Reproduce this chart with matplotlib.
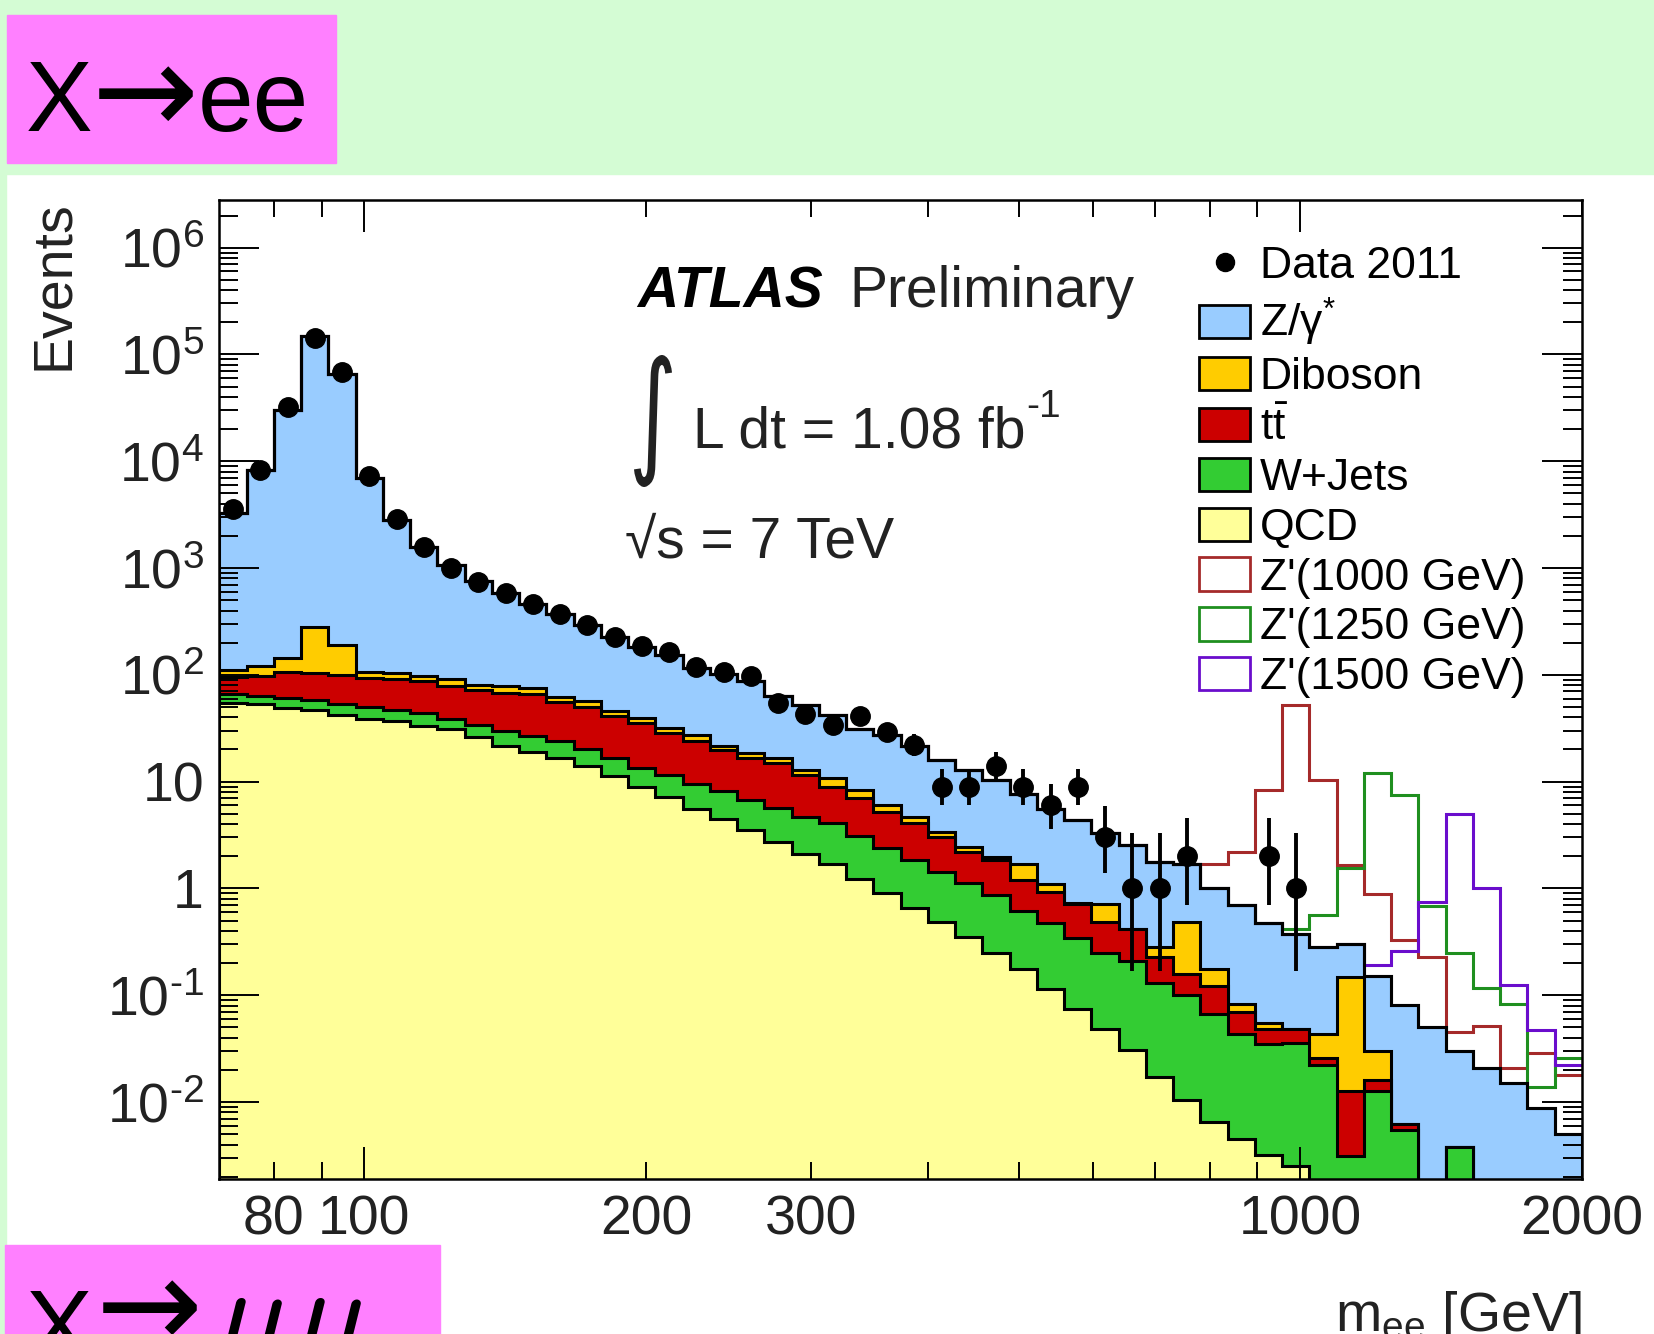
import numpy as np
import matplotlib
matplotlib.use('Agg')
import matplotlib.pyplot as plt
from matplotlib.patches import Rectangle, Patch, PathPatch
from matplotlib.lines import Line2D
from matplotlib.textpath import TextPath
from matplotlib.transforms import Affine2D
from matplotlib.font_manager import FontProperties
from matplotlib.ticker import FixedLocator, FuncFormatter, LogLocator

plt.rcParams['font.family'] = ['Liberation Sans', 'DejaVu Sans']
plt.rcParams['mathtext.fontset'] = 'custom'
plt.rcParams['mathtext.rm'] = 'Liberation Sans'
plt.rcParams['mathtext.it'] = 'Liberation Sans:italic'
plt.rcParams['mathtext.bf'] = 'Liberation Sans:bold'

# m_ee binning: 50 bins of equal log width between 70 and 2000 GeV
edges = np.geomspace(70, 2000, 51)

data = [3550, 8300, 32000, 144000, 68000, 7200, 2850, 1560, 1000, 740,
        585, 465, 370, 295, 228, 187, 164, 119, 106, 98,
        55, 43, 34, 41, 29, 22, 9, 9, 14, 9,
        6, 9, 3, 1, 1, 2, 0, 0, 2, 1,
        0, 0, 0, 0, 0, 0, 0, 0, 0, 0]
data_err_lo = [60, 91, 179, 380, 261, 85, 53, 39, 32, 27,
               24, 22, 19, 17, 15, 14, 13, 11, 10, 10,
               7.5, 6.5, 5.8, 6.4, 5.4, 4.7, 2.9, 2.9, 3.7, 2.9,
               2.4, 2.9, 1.6, 0.83, 0.83, 1.3, 0, 0, 1.3, 0.83,
               0, 0, 0, 0, 0, 0, 0, 0, 0, 0]
data_err_hi = [60, 91, 179, 380, 261, 85, 53, 39, 32, 27,
               24, 22, 19, 17, 15, 14, 13, 11, 10, 10,
               8.5, 7.6, 6.9, 7.4, 6.4, 5.8, 4.1, 4.1, 4.8, 4.1,
               3.6, 4.1, 2.9, 2.3, 2.3, 2.6, 0, 0, 2.6, 2.3,
               0, 0, 0, 0, 0, 0, 0, 0, 0, 0]

qcd = [55, 53, 49, 47, 42, 39, 37, 33, 31, 26,
       21.5, 19, 16.6, 14, 11.4, 9.0, 7.2, 5.6, 4.5, 3.5,
       2.7, 2.1, 1.7, 1.23, 0.9, 0.65, 0.48, 0.35, 0.25, 0.175,
       0.115, 0.074, 0.048, 0.031, 0.017, 0.0105, 0.0065, 0.0045, 0.0032, 0.0025,
       0, 0, 0, 0, 0, 0, 0, 0, 0, 0]
wjets = [11, 11, 12, 11, 11, 11, 10, 11, 8, 8,
         8.5, 8, 7.4, 6, 5.1, 4.5, 4.3, 3.9, 3.6, 3.3,
         3.0, 2.6, 2.4, 1.87, 1.5, 1.2, 0.96, 0.77, 0.61, 0.445,
         0.355, 0.266, 0.202, 0.179, 0.113, 0.09, 0.06, 0.039, 0.032, 0.033,
         0.022, 0.0031, 0.0126, 0.0055, 0, 0.0038, 0, 0, 0, 0]
ttbar = [29, 33, 45, 46, 47, 44, 44, 44, 40, 38,
         38, 39, 32, 30, 24.5, 22, 17.1, 14.3, 11.5, 9.8,
         9.2, 6.9, 4.9, 3.9, 2.8, 2.21, 1.6, 1.08, 0.97, 0.57,
         0.45, 0.38, 0.23, 0.21, 0.096, 0.057, 0.056, 0.026, 0.013, 0.013,
         0.004, 0.0095, 0.0034, 0.0007, 0, 0, 0, 0, 0, 0]
diboson = [16, 24, 39, 179, 89, 12, 13, 10, 12, 9,
           10, 10, 6, 7, 5, 4, 3.2, 3.8, 1.8, 1.9,
           1.7, 1.3, 1.8, 1.4, 0.8, 0.64, 0.35, 0.25, 0.14, 0.52,
           0.17, 0.01, 0.24, 0, 0.054, 0.323, 0.054, 0.013, 0.007, 0,
           0.017, 0.134, 0.014, 0, 0, 0, 0, 0, 0, 0]
zgamma = [3140, 8180, 29900, 148000, 65800, 6790, 2700, 1480, 969, 679,
          512, 384, 308, 233, 179, 143, 120, 89.4, 79.6, 68.5,
          46.4, 39.1, 31.7, 22.6, 21.5, 16.7, 12.6, 10.5, 8.43, 6.0,
          4.51, 3.67, 2.55, 2.12, 1.49, 1.22, 0.824, 0.618, 0.415, 0.322,
          0.237, 0.153, 0.12, 0.074, 0.05, 0.026, 0.021, 0.015, 0.0088, 0.005]

# Z' signal yields, stacked on the total background when drawn
zp1000 = [0] * 36 + [0.7, 1.5, 7.8, 51.6, 10.1, 1.35, 0.73, 0.25, 0.18, 0.015,
                     0.03, 0.006, 0.02, 0.013]
zp1250 = [0] * 39 + [0.05, 0.28, 1.26, 11.85, 7.4, 0.64, 0.22, 0.096, 0.067, 0.005,
                     0.021]
zp1500 = [0] * 42 + [0.04, 0.18, 0.69, 4.97, 0.98, 0.11, 0.038, 0.017]

bkg = [('QCD', qcd, '#ffff99'), ('W+Jets', wjets, '#33cc33'),
       (r'$\mathregular{t\bar{t}}$', ttbar, '#cc0000'),
       ('Diboson', diboson, '#ffcc00'), (r'Z/$\mathregular{\gamma^{*}}$', zgamma, '#99ccff')]
signals = [("Z'(1000 GeV)", zp1000, '#a52a2a'), ("Z'(1250 GeV)", zp1250, '#1f8f1f'),
           ("Z'(1500 GeV)", zp1500, '#6a0dcc')]

W, H = 1654, 1334
fig = plt.figure(figsize=(W / 100, H / 100), dpi=100)


def fpos(x, y):
    # pixel position (from top left) -> figure fraction
    return x / W, 1 - y / H


# page decoration around the plot
green = '#d4fcd4'
pink = '#ff80ff'
fig.patches.append(Rectangle((0, 1 - 174 / H), 1, 174 / H, transform=fig.transFigure, color=green, zorder=0))
fig.patches.append(Rectangle((0, 0), 6 / W, 1 - 174 / H, transform=fig.transFigure, color=green, zorder=0))
fig.patches.append(Rectangle((7 / W, 1 - 163 / H), 329 / W, 148 / H, transform=fig.transFigure, color=pink, zorder=0))
fig.patches.append(Rectangle((5 / W, 0), 435 / W, 89 / H, transform=fig.transFigure, color=pink, zorder=0))
arrow_font = ['DejaVu Sans']
fig.text(*fpos(26, 131), 'X', fontsize=72, va='baseline')
fig.text(*fpos(92, 134), '\u2192', fontsize=92, va='baseline', family=arrow_font)
fig.text(*fpos(198, 131), 'ee', fontsize=72, va='baseline')
fig.text(*fpos(26, 1360), 'X', fontsize=72, va='baseline')
fig.text(*fpos(96, 1348), '\u2192', fontsize=92, va='baseline', family=arrow_font)
fig.text(*fpos(212, 1357), r'$\mu\mu$', fontsize=95, va='baseline', math_fontfamily='cm')

ax = fig.add_axes([219.4 / W, 1 - 1179.3 / H, (1582 - 219.4) / W, (1179.3 - 200.4) / H])
ax.set_xscale('log')
ax.set_yscale('log')

cum = np.cumsum([np.array(v, dtype=float) for _, v, _ in bkg], axis=0)
for level, (_, _, col) in reversed(list(zip(cum, bkg))):
    ax.stairs(np.maximum(level, 1e-6), edges, baseline=1e-6, fill=True,
              facecolor=col, edgecolor='black', lw=2.2)
total = cum[-1]
for _, sig, col in signals:
    ax.stairs(total + np.array(sig), edges, baseline=None, color=col, lw=2.2)
ax.stairs(total, edges, baseline=None, color='black', lw=2.2)

centers = np.sqrt(edges[:-1] * edges[1:])
d = np.array(data, dtype=float)
has = d > 0
ax.errorbar(centers[has], d[has],
            yerr=[np.array(data_err_lo)[has], np.array(data_err_hi)[has]],
            fmt='o', color='black', ms=14, elinewidth=2.8, capsize=0, zorder=10)

ax.set_xlim(70, 2000)
ax.set_ylim(1.89e-3, 2.77e6)

ax.xaxis.set_major_locator(FixedLocator([100, 1000]))
ax.xaxis.set_minor_locator(FixedLocator([80, 90, 200, 300, 400, 500, 600, 700, 800, 900, 2000]))
ax.xaxis.set_major_formatter(FuncFormatter(lambda v, p: '%g' % v))
ax.xaxis.set_minor_formatter(FuncFormatter(lambda v, p: '%g' % v if v in (80, 200, 300, 2000) else ''))


def ylab(v, p):
    k = int(round(np.log10(v)))
    if k == 0:
        return '1'
    if k == 1:
        return '10'
    # short hyphen for negative exponents, as on the original axis
    return r'$\mathregular{10^{%s}}$' % str(k).replace('-', '\u2010')


ax.yaxis.set_major_locator(LogLocator(base=10, numticks=20))
ax.yaxis.set_minor_locator(LogLocator(base=10, subs=np.arange(2, 10), numticks=20))
ax.yaxis.set_major_formatter(FuncFormatter(ylab))

ax.tick_params(which='both', direction='in', top=True, right=True, width=1.4,
               labelsize=40, labelcolor='#222222', pad=11)
ax.tick_params(axis='y', which='major', length=29)
ax.tick_params(axis='y', which='minor', length=14)
ax.tick_params(axis='x', which='major', length=23)
ax.tick_params(axis='x', which='minor', length=12)
for s in ax.spines.values():
    s.set_linewidth(1.8)

ax.set_ylabel('Events', fontsize=40, loc='top', color='#222222')
ax.yaxis.set_label_coords(-0.1025, 1.0)
fig.text(*fpos(1582, 1331), r'm$_{\mathregular{ee}}$ [GeV]', fontsize=40, ha='right',
         va='baseline', color='#222222')

# legend
handles = [Line2D([], [], ls='none', marker='o', color='black', ms=13)]
labels = ['Data 2011']
for name, _, col in reversed(bkg):
    handles.append(Patch(facecolor=col, edgecolor='black', lw=2))
    labels.append(name)
for name, _, col in signals:
    handles.append(Patch(facecolor='white', edgecolor=col, lw=2))
    labels.append(name)
ax.legend(handles, labels, loc='upper left', bbox_to_anchor=(0.7189, 0.953),
          frameon=False, fontsize=32, handlelength=1.15, handleheight=0.77,
          handletextpad=0.22, labelspacing=0.2, borderpad=0, borderaxespad=0)

# ATLAS label block
fig.text(*fpos(637, 307), 'ATLAS', fontsize=41, weight='bold', style='italic', va='baseline')
fig.text(*fpos(849, 307), 'Preliminary', fontsize=41, va='baseline', color='#222222')
fig.text(*fpos(693, 448), 'L dt = 1.08 fb', fontsize=41, va='baseline', color='#222222')
fig.text(*fpos(1026, 417), '-1', fontsize=28, va='baseline', color='#222222')
fig.text(*fpos(625, 557), '\u221as = 7 TeV', fontsize=41, va='baseline', color='#222222')

tp = TextPath((0, 0), '\u222b', size=56, prop=FontProperties(family='DejaVu Sans'))
ext = tp.get_extents()
tr = Affine2D().translate(-ext.x0, -ext.y0).scale(38 / ext.width, 132 / ext.height).translate(634, H - 487)
fig.add_artist(PathPatch(tp, transform=tr, facecolor='#222222', lw=0))

fig.savefig('out.png', dpi=100)
